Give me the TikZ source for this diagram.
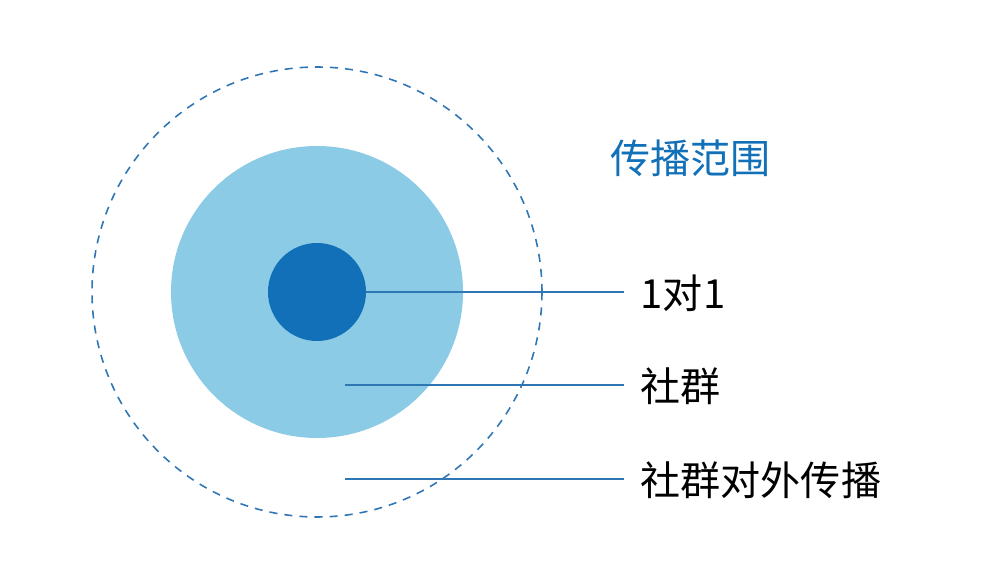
\documentclass[tikz,border=0pt]{standalone}
\usepackage{fontspec}
\setmainfont{Noto Sans CJK SC}
\usepackage{tikz}
\usetikzlibrary{positioning}
\definecolor{deepblue}{HTML}{1170B8}
\definecolor{paleblue}{HTML}{8BCBE6}
\definecolor{lineblue}{HTML}{2F76B5}

\begin{document}
\begin{tikzpicture}[
  ring/.style={draw=lineblue, dashed, dash pattern=on 2.3pt off 2pt, line width=0.45pt},
  lead/.style={draw=lineblue, line width=0.4pt},
  label/.style={anchor=west, inner sep=0pt, font=\fontsize{11.4}{13}\selectfont, text=black},
  title/.style={anchor=west, inner sep=0pt, font=\fontsize{11.4}{13}\selectfont, text=deepblue}
]
  \useasboundingbox (0,0) rectangle (10.04,5.80);

  % Circles: reach of spread
  \coordinate (ctr) at (3.17,2.88);
  \draw[ring] (ctr) circle (2.25);
  \fill[paleblue] (ctr) circle (1.46);
  \fill[deepblue] (ctr) circle (0.49);

  % Title
  \node[title] (scope) at (6.10,4.22) {传播范围};

  % Labels
  \node[label] (one) at (6.40,2.87) {1对1};
  \node[label] (group) at (6.40,1.94) {社群};
  \node[label] (outer) at (6.40,1.00) {社群对外传播};

  % Leader lines
  \coordinate (p1) at (3.66,2.88);
  \coordinate (p2) at (3.45,1.95);
  \coordinate (p3) at (3.45,1.01);
  \draw[lead] (p1) -- (6.24,2.88) coordinate (q1);
  \draw[lead] (p2) -- (6.24,1.95) coordinate (q2);
  \draw[lead] (p3) -- (6.24,1.01) coordinate (q3);
\end{tikzpicture}
\end{document}
